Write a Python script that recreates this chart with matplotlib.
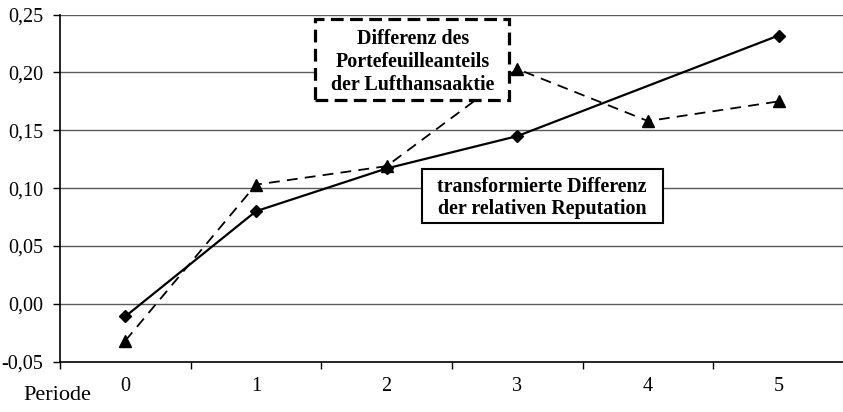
import matplotlib
matplotlib.use("Agg")
import matplotlib.pyplot as plt
from matplotlib.patches import Rectangle
from matplotlib.ticker import FixedLocator, NullFormatter, FixedFormatter

plt.rcParams['font.family'] = ['Liberation Serif', 'DejaVu Serif']

# ---- data ----
periods = [0, 1, 2, 3, 4, 5]
period_labels = ["0", "1", "2", "3", "4", "5"]
rep_periods = [0, 1, 2, 3, 5]                        # no value in period 4
rep_values = [-0.011, 0.080, 0.117, 0.145, 0.232]    # transformierte Differenz der relativen Reputation
port_values = [-0.032, 0.103, 0.119, 0.203, 0.158, 0.175]  # Differenz des Portefeuilleanteils
y_ticks = [-0.05, 0.00, 0.05, 0.10, 0.15, 0.20, 0.25]
y_tick_labels = ["-0,05", "0,00", "0,05", "0,10", "0,15", "0,20", "0,25"]

W, H = 843, 412
fig = plt.figure(figsize=(W / 100, H / 100), dpi=100)

def fx(x):
    return x / W

def fy(y):
    return 1 - y / H

ax_l, ax_r, ax_t, ax_b = 60, 844, 14.7, 361.5
ax = fig.add_axes([fx(ax_l), fy(ax_b), (ax_r - ax_l) / W, (ax_b - ax_t) / H])

ax.set_xlim(-0.5, 5.5)
ax.set_ylim(-0.05, 0.25)

# grid lines
for v in y_ticks[1:]:
    ax.axhline(v, color='#5a5a5a', lw=1.0, zorder=1)

ax.plot(rep_periods, rep_values, color='black', lw=1.6, marker='D',
        markersize=6, zorder=3, clip_on=False)
ax.plot(periods, port_values, color='black', lw=1.3, linestyle=(0, (6, 4)),
        marker='^', markersize=8.5, zorder=3, clip_on=False)

# axes styling
for s in ['top', 'right']:
    ax.spines[s].set_visible(False)
ax.spines['left'].set_linewidth(1.2)
ax.spines['bottom'].set_linewidth(1.2)

ax.yaxis.set_major_locator(FixedLocator(y_ticks))
ax.yaxis.set_major_formatter(FixedFormatter(y_tick_labels))
ax.tick_params(axis='y', direction='out', length=5, width=1, labelsize=14.5, pad=7)

bounds = [p - 0.5 for p in periods] + [periods[-1] + 0.5]
ax.xaxis.set_major_locator(FixedLocator(bounds))
ax.xaxis.set_major_formatter(NullFormatter())
ax.xaxis.set_minor_locator(FixedLocator(periods))
ax.xaxis.set_minor_formatter(FixedFormatter(period_labels))
ax.tick_params(axis='x', which='major', direction='out', length=5, width=1)
ax.tick_params(axis='x', which='minor', length=0, labelsize=14.5, pad=11)

fig.text(fx(57), fy(395), "Periode", fontsize=16, ha='center', va='center')

# annotation box 1 (dashed)
x0, y0, x1, y1 = 315, 19, 509, 100
fig.add_artist(Rectangle((fx(x0), fy(y1)), (x1 - x0) / W, (y1 - y0) / H,
                         transform=fig.transFigure, facecolor='white',
                         edgecolor='black', lw=2.3, linestyle=(0, (4, 2)), zorder=5))
fig.text(fx(413), fy(62), "Differenz des\nPortefeuilleanteils\nder Lufthansaaktie",
         fontsize=14.4, fontweight='bold', ha='center', va='center',
         linespacing=1.2, zorder=6)

# annotation box 2 (solid)
x0, y0, x1, y1 = 422, 169, 663, 223
fig.add_artist(Rectangle((fx(x0), fy(y1)), (x1 - x0) / W, (y1 - y0) / H,
                         transform=fig.transFigure, facecolor='white',
                         edgecolor='black', lw=1.5, zorder=5))
fig.text(fx(542), fy(198), "transformierte Differenz\nder relativen Reputation",
         fontsize=14.4, fontweight='bold', ha='center', va='center',
         linespacing=1.15, zorder=6)

fig.savefig("out.png", dpi=100)
